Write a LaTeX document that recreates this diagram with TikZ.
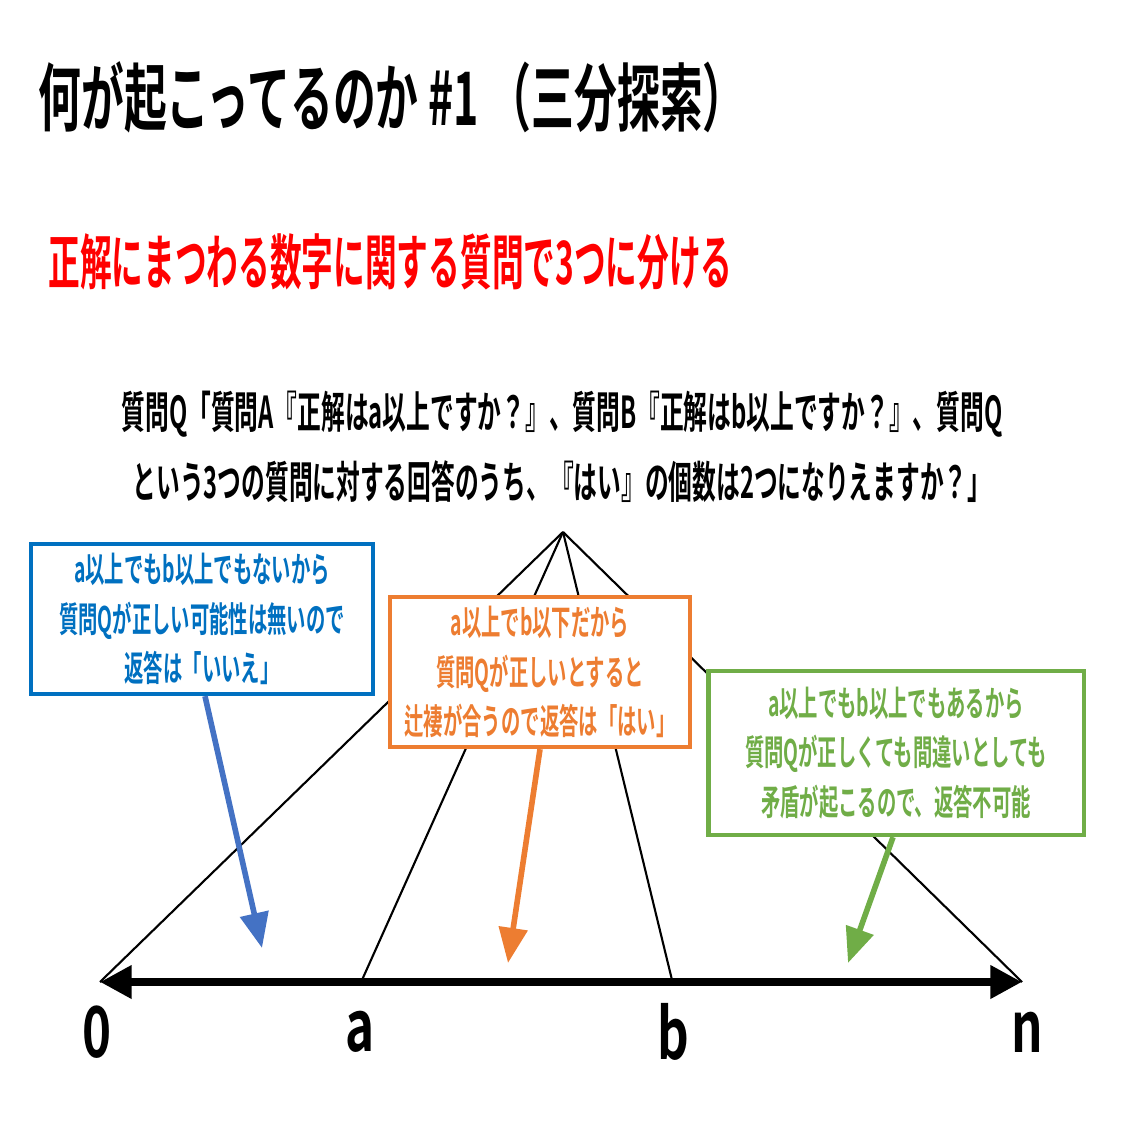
\documentclass[tikz,border=0pt]{standalone}
\usepackage{fontspec}
\setmainfont{Noto Sans CJK JP}[BoldFont={Noto Sans CJK JP Bold}]
\usetikzlibrary{arrows.meta, positioning}
\definecolor{ansblue}{RGB}{0,112,192}
\definecolor{arrblue}{RGB}{68,114,196}
\definecolor{ansorange}{RGB}{237,125,49}
\definecolor{ansgreen}{RGB}{112,173,71}
\newcommand{\narrow}[2]{\scalebox{#1}[1]{#2}}
\tikzset{
    answerbox/.style={
        rectangle,
        draw=#1,
        line width=1.2pt,
        fill=white,
        text=#1,
        align=center,
        inner sep=0pt,
        font=\bfseries\fontsize{10}{14}\selectfont
    },
    pointer/.style={
        draw=#1,
        line width=1.6pt,
        -{Triangle[length=10pt,width=8pt]}
    },
    branch/.style={
        draw=black,
        line width=0.6pt
    },
    tick/.style={
        font=\bfseries\fontsize{20}{20}\selectfont
    }
}
\begin{document}
\begin{tikzpicture}[x=0.01cm, y=-0.01cm]
\useasboundingbox (0,0) rectangle (1125,1125);

% Titles
\node[anchor=west, font=\bfseries\fontsize{21}{21}\selectfont] (title) at (26,97)
    {\narrow{0.58}{何が起こってるのか \#1 （三分探索）}};
\node[anchor=west, text=red, font=\bfseries\fontsize{17}{17}\selectfont] (subtitle) at (36,262)
    {\narrow{0.53}{正解にまつわる数字に関する質問で3つに分ける}};
\node[align=center, font=\bfseries\fontsize{12.5}{20}\selectfont] (question) at (562,447)
    {\narrow{0.54}{質問Q「質問A『正解はa以上ですか？』、質問B『正解はb以上ですか？』、質問Q}\\
     \narrow{0.54}{という3つの質問に対する回答のうち、『はい』の個数は2つになりえますか？」}};

% Tree
\coordinate (apex) at (563,532);
\coordinate (zero) at (100,982);
\coordinate (pa) at (362,980);
\coordinate (pb) at (672,980);
\coordinate (pn) at (1022,982);
\draw[branch] (apex) -- (zero);
\draw[branch] (apex) -- (pa);
\draw[branch] (apex) -- (pb);
\draw[branch] (apex) -- (pn);
\draw[line width=2.4pt, {Triangle[length=9pt,width=9pt]}-{Triangle[length=9pt,width=9pt]}] (zero) -- (pn);

% Axis labels
\node[tick] (l0) at (97,1032) {\narrow{0.7}{0}};
\node[tick] (la) at (360,1032) {\narrow{0.7}{a}};
\node[tick] (lb) at (673,1032) {\narrow{0.7}{b}};
\node[tick] (ln) at (1027,1032) {\narrow{0.7}{n}};

% Answer boxes
\node[answerbox=ansblue, text width=3.42cm, minimum height=1.5cm] (nobox) at (202,619)
    {\narrow{0.55}{a以上でもb以上でもないから}\\\narrow{0.55}{質問Qが正しい可能性は無いので}\\\narrow{0.55}{返答は「いいえ」}};
\node[answerbox=ansorange, text width=3cm, minimum height=1.5cm] (yesbox) at (540,672)
    {\narrow{0.55}{a以上でb以下だから}\\\narrow{0.55}{質問Qが正しいとすると}\\\narrow{0.55}{辻褄が合うので返答は「はい」}};
\node[answerbox=ansgreen, text width=3.75cm, minimum height=1.64cm] (nabox) at (896,753)
    {\narrow{0.55}{a以上でもb以上でもあるから}\\\narrow{0.55}{質問Qが正しくても間違いとしても}\\\narrow{0.55}{矛盾が起こるので、返答不可能}};

% Pointers
\coordinate (notip) at (262,948);
\coordinate (yestip) at (508,963);
\coordinate (natip) at (848,963);
\draw[pointer=arrblue] (nobox.south) ++(3,0) -- (notip);
\draw[pointer=ansorange] (yesbox.south) -- (yestip);
\draw[pointer=ansgreen] (nabox.south) ++(-3,0) -- (natip);
\end{tikzpicture}
\end{document}
